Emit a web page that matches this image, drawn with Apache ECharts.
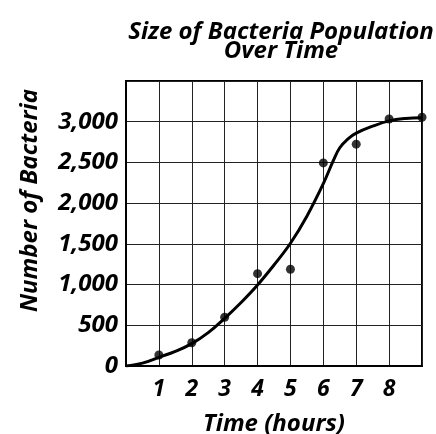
<!DOCTYPE html>
<html>
<head>
<meta charset="utf-8">
<script src="https://cdn.jsdelivr.net/npm/echarts@6/dist/echarts.min.js"></script>
<style>
  html, body { margin: 0; padding: 0; background: #fff; }
  #chart { width: 436px; height: 434px; }
</style>
</head>
<body>
<div id="chart"></div>
<script>
// measured points (hours, bacteria count)
const hours = [1, 2, 3, 4, 5, 6, 7, 8, 9]
const counts = [135, 286, 598, 1134, 1188, 2494, 2724, 3034, 3055]

// best-fit curve
const curveHours = [0, 0.5, 1, 1.5, 2, 2.5, 3, 3.5, 4, 4.5, 5, 5.5, 6, 6.3, 6.5, 6.75, 7, 7.5, 8, 8.5, 9]
const curveCounts = [0, 35, 107, 180, 275, 410, 586, 780, 995, 1240, 1507, 1840, 2240, 2520, 2680, 2790, 2860, 2945, 3010, 3040, 3050]

const xTickLabels = ['', '1', '2', '3', '4', '5', '6', '7', '8', '']
const yTickLabels = ['0', '500', '1,000', '1,500', '2,000', '2,500', '3,000', '']

const FONT = 'Open Sans'
const chart = echarts.init(document.getElementById('chart'), null, { renderer: 'canvas' })

const textBase = {
  fontFamily: FONT,
  fontStyle: 'italic',
  fontWeight: 'bold',
  color: '#000',
}

const option = {
  backgroundColor: '#fff',
  animation: false,
  title: {
    text: 'Size of Bacteria Population\nOver Time',
    left: 276,
    top: 18,
    textAlign: 'center',
    textStyle: { ...textBase, fontSize: 24, lineHeight: 19 },
  },
  grid: {
    left: 126,
    right: 14,
    top: 81,
    bottom: 68,
    containLabel: false,
    outerBoundsMode: 'none',
    show: true,
    borderColor: '#000',
    borderWidth: 2,
  },
  xAxis: {
    type: 'value',
    min: 0,
    max: 9,
    interval: 1,
    name: 'Time (hours)',
    nameLocation: 'middle',
    nameGap: 46,
    nameTextStyle: { ...textBase, fontSize: 24 },
    axisLine: { lineStyle: { color: '#000', width: 2 } },
    axisTick: { show: false },
    splitLine: { lineStyle: { color: '#222', width: 1 } },
    axisLabel: {
      ...textBase,
      fontSize: 23,
      margin: 12,
      formatter: (v) => xTickLabels[v] || '',
    },
  },
  yAxis: {
    type: 'value',
    min: 0,
    max: 3500,
    interval: 500,
    name: 'Number of Bacteria',
    nameLocation: 'middle',
    nameGap: 84,
    nameTextStyle: { ...textBase, fontSize: 24, padding: [0, 0, 0, 46] },
    axisLine: { show: true, lineStyle: { color: '#000', width: 2 } },
    axisTick: { show: false },
    splitLine: { lineStyle: { color: '#222', width: 1 } },
    axisLabel: {
      ...textBase,
      fontSize: 24,
      margin: 8,
      formatter: (v) => yTickLabels[v / 500] || '',
    },
  },
  series: [
    {
      type: 'line',
      data: curveHours.map((h, i) => [h, curveCounts[i]]),
      smooth: 0.4,
      showSymbol: false,
      lineStyle: { color: '#000', width: 3 },
      z: 3,
    },
    {
      type: 'scatter',
      data: hours.map((h, i) => [h, counts[i]]),
      symbol: 'circle',
      symbolSize: 9,
      itemStyle: { color: '#000' },
      z: 4,
    },
  ],
}

chart.setOption(option)
</script>
</body>
</html>
